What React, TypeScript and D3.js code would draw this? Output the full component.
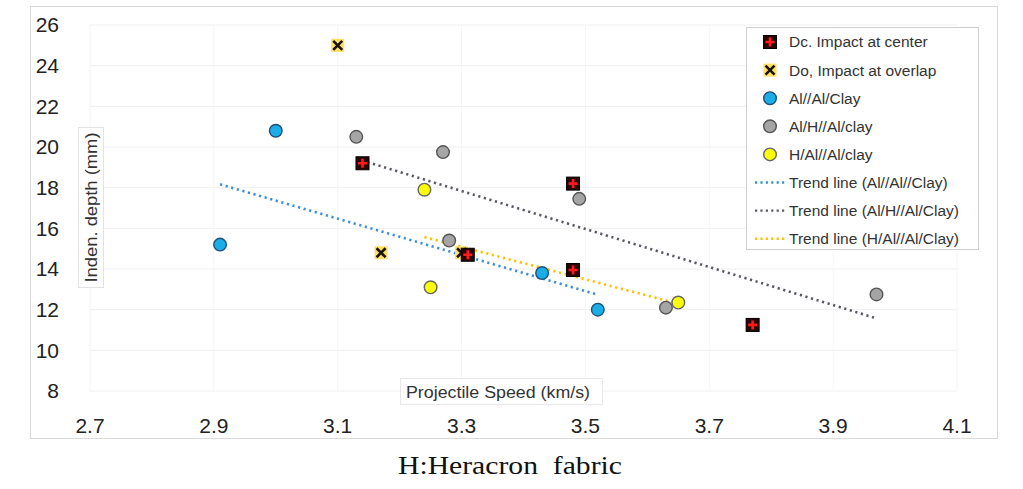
import React from "react";
import * as d3 from "d3";

// ---- data ----
const xTicks = [2.7, 2.9, 3.1, 3.3, 3.5, 3.7, 3.9, 4.1];
const yTicks = [8, 10, 12, 14, 16, 18, 20, 22, 24, 26];

const dcX = [3.14, 3.48, 3.31, 3.48, 3.77];
const dcY = [19.2, 18.2, 14.7, 13.95, 11.25];

const doX = [3.10, 3.17, 3.30];
const doY = [25.0, 14.8, 14.8];

const alAlX = [2.91, 3.0, 3.43, 3.52];
const alAlY = [15.2, 20.8, 13.8, 12.0];

const alHX = [3.13, 3.27, 3.28, 3.49, 3.63, 3.97];
const alHY = [20.5, 19.75, 15.4, 17.45, 12.1, 12.75];

const hAlX = [3.24, 3.25, 3.65];
const hAlY = [17.9, 13.1, 12.35];

const legendLabels = [
  "Dc. Impact at center",
  "Do, Impact at overlap",
  "Al//Al/Clay",
  "Al/H//Al/clay",
  "H/Al//Al/clay",
  "Trend line (Al//Al//Clay)",
  "Trend line (Al/H//Al/Clay)",
  "Trend line (H/Al//Al/Clay)",
];

const FONT = "'Liberation Sans', Arial, sans-serif";

function linreg(xs: number[], ys: number[]) {
  const mx = d3.mean(xs)!;
  const my = d3.mean(ys)!;
  let sxy = 0, sxx = 0;
  xs.forEach((x, i) => { sxy += (x - mx) * (ys[i] - my); sxx += (x - mx) ** 2; });
  const b = sxy / sxx;
  const a = my - b * mx;
  const x0 = d3.min(xs)!, x1 = d3.max(xs)!;
  return [[x0, a + b * x0], [x1, a + b * x1]] as [number, number][];
}

const Circle = ({ cx, cy, fill, stroke }: any) => (
  <circle cx={cx} cy={cy} r={6.3} fill={fill} stroke={stroke} strokeWidth={1.4} />
);
const DcMark = ({ cx, cy }: any) => (
  <g transform={`translate(${cx},${cy})`}>
    <rect x={-6.5} y={-6.5} width={13} height={13} fill="#2a0505" stroke="#000" strokeWidth={1} />
    <path d="M0,-4.5V4.5M-4.5,0H4.5" stroke="#ff1a1a" strokeWidth={2.6} />
  </g>
);
const DoMark = ({ cx, cy }: any) => (
  <g transform={`translate(${cx},${cy})`}>
    <rect x={-6.5} y={-6.5} width={13} height={13} fill="#ffe066" />
    <path d="M-4.5,-4.5L4.5,4.5M-4.5,4.5L4.5,-4.5" stroke="#1a1200" strokeWidth={2.6} />
  </g>
);

export default function App() {
  const x = d3.scaleLinear().domain([2.7, 4.1]).range([90, 957]);
  const y = d3.scaleLinear().domain([8, 26]).range([391, 25]);
  const line = d3.line<[number, number]>().x(d => x(d[0])).y(d => y(d[1]));

  const trends = [
    { pts: linreg(alAlX, alAlY), color: "#3d8fd8" },
    { pts: linreg(alHX, alHY), color: "#5a5a66" },
    { pts: linreg(hAlX, hAlY), color: "#ffc000" },
  ];

  const legY = (i: number) => 42 + i * 28.1;

  return (
    <svg width={1023} height={489} style={{ position: "absolute", left: 0, top: 0, background: "#fff" }}>
      <rect x={0} y={0} width={1023} height={489} fill="#fff" />
      {/* chart frame */}
      <rect x={30.5} y={6.5} width={967} height={432} fill="#fff" stroke="#d9d9d9" strokeWidth={1} />

      {/* gridlines */}
      {yTicks.map(t => (
        <line key={"gy" + t} x1={90} x2={957} y1={y(t)} y2={y(t)} stroke="#f0f0f0" strokeWidth={1} />
      ))}
      {xTicks.map(t => (
        <line key={"gx" + t} x1={x(t)} x2={x(t)} y1={y(26)} y2={y(8)} stroke="#f5f5f5" strokeWidth={1} />
      ))}

      {/* tick labels */}
      {yTicks.map(t => (
        <text key={"ty" + t} x={59} y={y(t)} dy="0.35em" textAnchor="end" fontFamily={FONT} fontSize={21} fill="#222">
          {t}
        </text>
      ))}
      {xTicks.map(t => (
        <text key={"tx" + t} x={x(t)} y={433} textAnchor="middle" fontFamily={FONT} fontSize={21} fill="#222">
          {t.toFixed(1)}
        </text>
      ))}

      {/* axis titles */}
      <rect x={78.5} y={127.5} width={25} height={160} fill="#fff" stroke="#e3e3e3" />
      <text transform="translate(96.5,207.5) rotate(-90)" textAnchor="middle" fontFamily={FONT} fontSize={16} fill="#333"
        textLength={150} lengthAdjust="spacingAndGlyphs">
        Inden. depth (mm)
      </text>
      <rect x={400.5} y={378.5} width={202} height={26} fill="#fff" stroke="#e8e8e8" />
      <text x={498} y={397.5} textAnchor="middle" fontFamily={FONT} fontSize={16} fill="#333"
        textLength={184} lengthAdjust="spacingAndGlyphs">
        Projectile Speed (km/s)
      </text>

      {/* trend lines */}
      {trends.map((t, i) => (
        <path key={"tr" + i} d={line(t.pts)!} fill="none" stroke={t.color} strokeWidth={2.6}
          strokeDasharray="2.2,3.6" />
      ))}

      {/* points */}
      {alAlX.map((v, i) => <Circle key={"b" + i} cx={x(v)} cy={y(alAlY[i])} fill="#1aaee8" stroke="#1f4e79" />)}
      {alHX.map((v, i) => <Circle key={"g" + i} cx={x(v)} cy={y(alHY[i])} fill="#a5a5a5" stroke="#555" />)}
      {hAlX.map((v, i) => <Circle key={"y" + i} cx={x(v)} cy={y(hAlY[i])} fill="#ffff00" stroke="#666" />)}
      {doX.map((v, i) => <DoMark key={"o" + i} cx={x(v)} cy={y(doY[i])} />)}
      {dcX.map((v, i) => <DcMark key={"c" + i} cx={x(v)} cy={y(dcY[i])} />)}

      {/* legend */}
      <rect x={746.5} y={27.5} width={232} height={222} fill="#fff" stroke="#cfcfcf" />
      <DcMark cx={770} cy={legY(0)} />
      <DoMark cx={770} cy={legY(1)} />
      <Circle cx={770} cy={legY(2)} fill="#1aaee8" stroke="#1f4e79" />
      <Circle cx={770} cy={legY(3)} fill="#a5a5a5" stroke="#555" />
      <Circle cx={770} cy={legY(4)} fill="#ffff00" stroke="#666" />
      {trends.map((t, i) => (
        <line key={"lt" + i} x1={755} x2={787} y1={legY(5 + i)} y2={legY(5 + i)} stroke={t.color}
          strokeWidth={2.4} strokeDasharray="2.2,3.2" />
      ))}
      {legendLabels.map((l, i) => (
        <text key={"ll" + i} x={789} y={legY(i)} dy="0.35em" fontFamily={FONT} fontSize={15.5} fill="#333">
          {l}
        </text>
      ))}

      {/* caption */}
      <text x={510} y={474} textAnchor="middle" fontFamily="'Liberation Serif', 'DejaVu Serif', serif" fontSize={25}
        fill="#111" textLength={224} lengthAdjust="spacingAndGlyphs" style={{ whiteSpace: "pre" }}>
        {"H:Heracron  fabric"}
      </text>
    </svg>
  );
}
